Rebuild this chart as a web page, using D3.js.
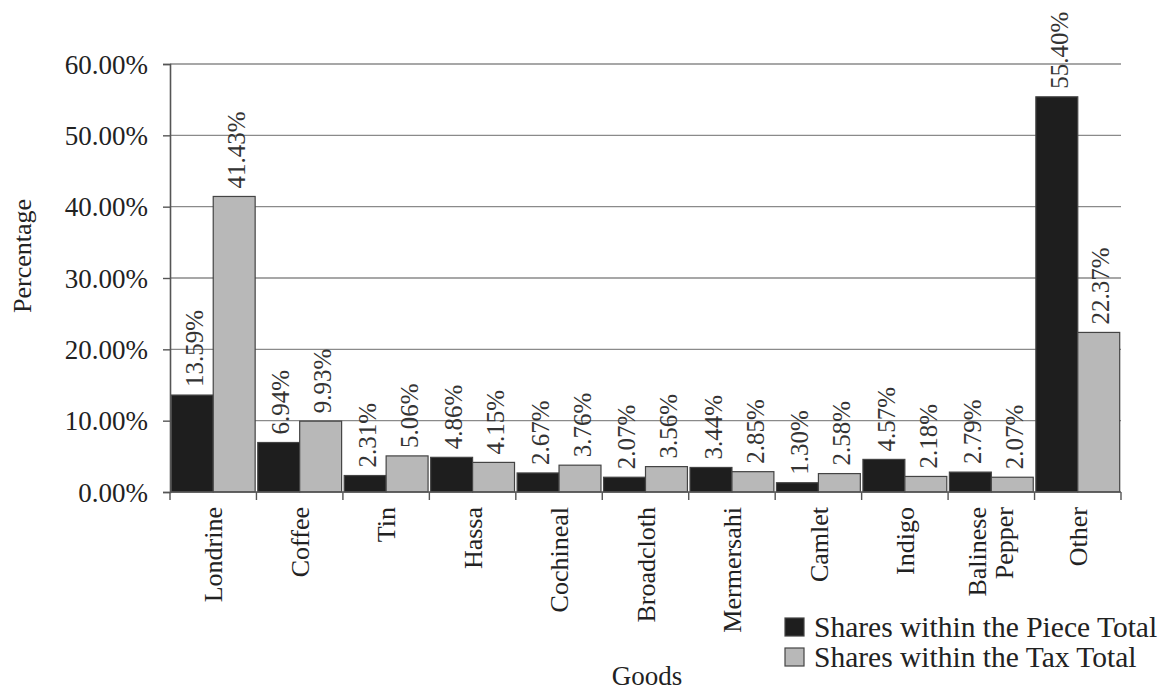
<!DOCTYPE html>
<html>
<head>
<meta charset="utf-8">
<script src="https://cdn.jsdelivr.net/npm/d3@7/dist/d3.min.js"></script>
<style>
  body { margin: 0; background: #fff; }
  svg { display: block; font-family: "Liberation Serif", "DejaVu Serif", serif; }
</style>
</head>
<body>
<svg id="chart" width="1165" height="691"></svg>
<script>
// Goods and their shares
const goods = ["Londrine", "Coffee", "Tin", "Hassa", "Cochineal", "Broadcloth",
               "Mermersahi", "Camlet", "Indigo", "Balinese\nPepper", "Other"];
const pieceShares = [13.59, 6.94, 2.31, 4.86, 2.67, 2.07, 3.44, 1.30, 4.57, 2.79, 55.40];
const taxShares   = [41.43, 9.93, 5.06, 4.15, 3.76, 3.56, 2.85, 2.58, 2.18, 2.07, 22.37];
const seriesNames = ["Shares within the Piece Total", "Shares within the Tax Total"];
const yTicks = [0, 10, 20, 30, 40, 50, 60];

const svg = d3.select("#chart");
const margin = { left: 170, right: 44, top: 64, bottom: 199 };
const W = 1165, H = 691;
const plotW = W - margin.left - margin.right;
const plotH = H - margin.top - margin.bottom;
const FONT = "Liberation Serif, DejaVu Serif, serif";

const g = svg.append("g").attr("transform", `translate(${margin.left},${margin.top})`);

const x = d3.scaleBand().domain(goods).range([0, plotW]).paddingInner(0.03).paddingOuter(0.015);
const xs = d3.scaleBand().domain([0, 1]).range([0, x.bandwidth()]).padding(0);
const y = d3.scaleLinear().domain([0, 60]).range([plotH, 0]);

// horizontal grid
g.append("g").selectAll("line").data(yTicks.slice(1)).join("line")
  .attr("x1", 0).attr("x2", plotW)
  .attr("y1", d => y(d)).attr("y2", d => y(d))
  .attr("stroke", "#8a8a8a").attr("stroke-width", 1.4);

// bars
const colors = ["#1e1e1e", "#b8b8b8"];
const rows = goods.map((name, i) => ({ name, vals: [pieceShares[i], taxShares[i]] }));
const grp = g.selectAll(".cat").data(rows).join("g")
  .attr("transform", d => `translate(${x(d.name)},0)`);

grp.selectAll("rect").data(d => d.vals.map((v, k) => ({ v, k }))).join("rect")
  .attr("x", d => xs(d.k)).attr("width", xs.bandwidth())
  .attr("y", d => y(d.v)).attr("height", d => plotH - y(d.v))
  .attr("fill", d => colors[d.k]).attr("stroke", "#444").attr("stroke-width", 1.2);

// value labels, rotated above each bar
grp.selectAll("text.val").data(d => d.vals.map((v, k) => ({ v, k }))).join("text")
  .attr("class", "val")
  .attr("transform", d => `translate(${xs(d.k) + xs.bandwidth() / 2 + 2},${y(d.v) - 8}) rotate(-90)`)
  .attr("text-anchor", "start").attr("dy", "0.35em")
  .attr("font-size", 25).attr("fill", "#333")
  .text(d => d.v.toFixed(2) + "%");

// y axis
const yAxis = d3.axisLeft(y).tickValues(yTicks).tickSize(7).tickFormat(d => d.toFixed(2) + "%");
const ya = g.append("g").call(yAxis);
ya.attr("font-family", FONT);
ya.select(".domain").attr("stroke", "#555").attr("stroke-width", 1.6);
ya.selectAll(".tick line").attr("stroke", "#555").attr("stroke-width", 1.4);
ya.selectAll(".tick text").attr("font-size", 27).attr("fill", "#222")
  .attr("x", -22).attr("dy", "0.34em");

// x axis baseline with ticks at category boundaries
g.append("line").attr("x1", 0).attr("x2", plotW).attr("y1", plotH).attr("y2", plotH)
  .attr("stroke", "#555").attr("stroke-width", 1.6);
const bounds = d3.range(goods.length + 1).map(i => i * plotW / goods.length);
g.append("g").selectAll("line").data(bounds).join("line")
  .attr("x1", d => d).attr("x2", d => d).attr("y1", plotH).attr("y2", plotH + 8)
  .attr("stroke", "#555").attr("stroke-width", 1.4);

// category labels, rotated
const catLbl = g.append("g").selectAll("text").data(goods).join("text")
  .attr("transform", d => `translate(${x(d) + x.bandwidth() / 2},${plotH + 15}) rotate(-90)`)
  .attr("text-anchor", "end").attr("font-size", 26).attr("fill", "#222");
catLbl.each(function (d) {
  const lines = d.split("\n");
  const t = d3.select(this);
  lines.forEach((ln, i) => {
    t.append("tspan").attr("x", 0)
      .attr("dy", i === 0 ? (lines.length === 1 ? "0.35em" : "-0.22em") : "1.05em")
      .text(ln);
  });
});

// axis titles
svg.append("text").attr("transform", `translate(22,${margin.top + plotH / 2 - 22}) rotate(-90)`)
  .attr("text-anchor", "middle").attr("dy", "0.35em").attr("font-size", 26).attr("fill", "#222").text("Percentage");
svg.append("text").attr("x", 647).attr("y", 685)
  .attr("text-anchor", "middle").attr("font-size", 27).attr("fill", "#222").text("Goods");

// legend
const leg = svg.append("g").attr("transform", "translate(785,617)");
seriesNames.forEach((name, i) => {
  const row = leg.append("g").attr("transform", `translate(0,${i * 30})`);
  row.append("rect").attr("x", 0).attr("y", 1).attr("width", 19).attr("height", 18)
    .attr("fill", colors[i]).attr("stroke", "#444").attr("stroke-width", 1.2);
  row.append("text").attr("x", 29).attr("y", 20).attr("font-size", 29.5).attr("fill", "#222").text(name);
});
</script>
</body>
</html>
